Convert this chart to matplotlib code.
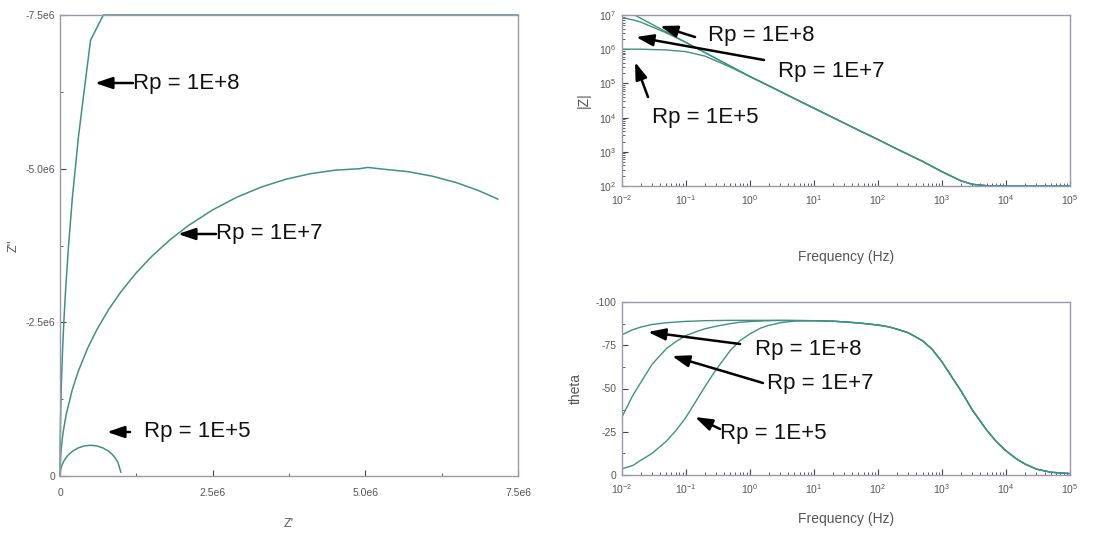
import numpy as np
import matplotlib
matplotlib.use('Agg')
import matplotlib.pyplot as plt
from matplotlib.ticker import FixedLocator, FixedFormatter, LogLocator, NullFormatter
from matplotlib.patches import FancyArrowPatch

plt.rcParams['font.family'] = ['Liberation Sans', 'DejaVu Sans']
plt.rcParams['mathtext.fontset'] = 'custom'
plt.rcParams['mathtext.rm'] = 'Liberation Sans'

# ---------------- data ----------------
labels = ['Rp = 1E+8', 'Rp = 1E+7', 'Rp = 1E+5']

# Nyquist (ohm)
nyq_re_rp8 = [0, 0.0025e6, 0.01e6, 0.0225e6, 0.04e6, 0.0625e6, 0.09e6, 0.139e6, 0.20e6,
              0.30e6, 0.40e6, 0.50e6, 0.71e6, 7.5e6]
nyq_im_rp8 = [0, -0.5e6, -1.0e6, -1.5e6, -2.0e6, -2.5e6, -3.0e6, -3.73e6, -4.5e6,
              -5.5e6, -6.3e6, -7.09e6, -7.5e6, -7.5e6]
nyq_re_rp7 = [0, 0.005e6, 0.02e6, 0.05e6, 0.1e6, 0.2e6, 0.3e6, 0.45e6, 0.6e6, 0.8e6, 1.0e6,
              1.25e6, 1.5e6, 1.8e6, 2.1e6, 2.5e6, 2.9e6, 3.3e6, 3.7e6, 4.1e6, 4.5e6, 4.9e6,
              5.04e6, 5.3e6, 5.7e6, 6.1e6, 6.5e6, 6.85e6, 7.17e6]
nyq_im_rp7 = [0, -0.224e6, -0.447e6, -0.705e6, -0.995e6, -1.40e6, -1.706e6, -2.073e6, -2.375e6,
              -2.713e6, -3.0e6, -3.307e6, -3.571e6, -3.842e6, -4.073e6, -4.33e6, -4.538e6,
              -4.702e6, -4.828e6, -4.918e6, -4.975e6, -4.999e6, -5.02e6, -4.991e6, -4.951e6,
              -4.877e6, -4.77e6, -4.645e6, -4.505e6]
nyq_re_rp5 = [0, 0.01e6, 0.03e6, 0.06e6, 0.10e6, 0.15e6, 0.20e6, 0.30e6, 0.40e6, 0.50e6,
              0.60e6, 0.70e6, 0.80e6, 0.85e6, 0.90e6, 0.95e6, 0.996e6]
nyq_im_rp5 = [0, -0.0995e6, -0.171e6, -0.237e6, -0.30e6, -0.357e6, -0.40e6, -0.458e6, -0.49e6,
              -0.50e6, -0.49e6, -0.458e6, -0.40e6, -0.357e6, -0.30e6, -0.218e6, -0.063e6]
nyq_ticks = [0, 2.5e6, 5.0e6, 7.5e6]
nyq_xticklabels = ['0', '2.5e6', '5.0e6', '7.5e6']
nyq_yticks = [0, -2.5e6, -5.0e6, -7.5e6]
nyq_yticklabels = ['0', '-2.5e6', '-5.0e6', '-7.5e6']

# |Z| vs frequency
freq_mag = [0.01, 0.016, 0.02, 0.05, 0.1, 0.2, 0.5, 1, 2, 5, 10, 20, 50, 100, 200, 500,
            1000, 2000, 3000, 5000, 1e4, 2e4, 5e4, 1e5]
mag_rp8 = [1.0e7, 1.0e7, 8.0e6, 3.2e6, 1.6e6, 8.0e5, 3.2e5, 1.6e5, 8.5e4, 3.6e4, 1.9e4, 1.0e4,
           4.3e3, 2.3e3, 1.2e3, 525, 263, 141, 112, 102, 100, 100, 100, 100]
mag_rp7 = [8.5e6, 7.0e6, 6.2e6, 3.0e6, 1.6e6, 8.0e5, 3.2e5, 1.6e5, 8.5e4, 3.6e4, 1.9e4, 1.0e4,
           4.3e3, 2.3e3, 1.2e3, 525, 263, 141, 112, 102, 100, 100, 100, 100]
mag_rp5 = [1.0e6, 1.0e6, 1.0e6, 9.5e5, 8.5e5, 6.3e5, 3.0e5, 1.6e5, 8.5e4, 3.6e4, 1.9e4, 1.0e4,
           4.3e3, 2.3e3, 1.2e3, 525, 263, 141, 112, 102, 100, 100, 100, 100]

# phase vs frequency (degrees)
freq_theta = [0.01, 0.015, 0.02, 0.03, 0.05, 0.07, 0.1, 0.15, 0.2, 0.3, 0.5, 0.7, 1, 1.5, 2, 3, 5,
              10, 20, 30, 50, 100, 150, 200, 300, 500, 700, 1000, 1500, 2000, 3000, 5000, 7000,
              1e4, 1.5e4, 2e4, 3e4, 5e4, 1e5]
theta_rp8 = [-81, -84, -85.5, -87, -88, -88.4, -88.8, -89, -89.2, -89.3, -89.4, -89.4, -89.4, -89.4,
             -89.4, -89.4, -89.3,
             -89.2, -88.9, -88.5, -87.9, -86.7, -85.6, -84.3, -82.2, -77.6, -72.8, -65.5, -55.5,
             -48.5, -37.5, -26, -19.5, -14, -9, -6.3, -3.4, -1.6, -0.8]
theta_rp7 = [-33, -46, -53.5, -64, -73, -77, -80.5, -83, -84.5, -86, -87.5, -88.3, -88.7, -89,
             -89.2, -89.3, -89.3,
             -89.2, -88.9, -88.5, -87.9, -86.7, -85.6, -84.3, -82.2, -77.6, -72.8, -65.5, -55.5,
             -48.5, -37.5, -26, -19.5, -14, -9, -6.3, -3.4, -1.6, -0.8]
theta_rp5 = [-3.5, -5.5, -8.5, -12.5, -19.5, -25.5, -33, -43.5, -51, -61, -72, -77.5, -81.5, -85,
             -86.5, -88, -89,
             -89.2, -88.9, -88.5, -87.9, -86.7, -85.6, -84.3, -82.2, -77.6, -72.8, -65.5, -55.5,
             -48.5, -37.5, -26, -19.5, -14, -9, -6.3, -3.4, -1.6, -0.8]
theta_ticks = [0, -25, -50, -75, -100]
theta_ticklabels = ['0', '-25', '-50', '-75', '-100']

# ---------------- figure ----------------
W, H = 1094, 533
fig = plt.figure(figsize=(W / 100, H / 100), dpi=100)

line_col = '#3f9282'
frame_col = '#9a98b0'
text_col = '#555555'


def axes_px(x0, y0, x1, y1):
    return fig.add_axes([x0 / W, 1 - y1 / H, (x1 - x0) / W, (y1 - y0) / H])


def style(ax, xpad=3.5):
    for s in ax.spines.values():
        s.set_color(frame_col)
        s.set_linewidth(1.0)
    ax.tick_params(which='both', direction='in', colors='#444444', labelcolor=text_col,
                   labelsize=7.5, top=False, right=False)
    ax.tick_params(which='major', length=4)
    ax.tick_params(which='minor', length=2.5)
    ax.tick_params(axis='x', pad=xpad)


# Nyquist
ax1 = axes_px(60, 15, 518, 476)
ax1.plot(nyq_re_rp8, nyq_im_rp8, color=line_col, lw=1.1, clip_on=False)
ax1.plot(nyq_re_rp7, nyq_im_rp7, color=line_col, lw=1.1)
ax1.plot(nyq_re_rp5, nyq_im_rp5, color=line_col, lw=1.1)
ax1.set_xlim(0, 7.5e6)
ax1.set_ylim(0, -7.5e6)
ax1.xaxis.set_major_locator(FixedLocator(nyq_ticks))
ax1.xaxis.set_major_formatter(FixedFormatter(nyq_xticklabels))
ax1.yaxis.set_major_locator(FixedLocator(nyq_yticks))
ax1.yaxis.set_major_formatter(FixedFormatter(nyq_yticklabels))
ax1.xaxis.set_minor_locator(FixedLocator([1.25e6, 3.75e6, 6.25e6]))
ax1.yaxis.set_minor_locator(FixedLocator([-1.25e6, -3.75e6, -6.25e6]))
style(ax1, xpad=9)
ax1.set_xlabel("Z'", fontsize=9, color=text_col, labelpad=14)
ax1.set_ylabel("Z''", fontsize=9, color=text_col, labelpad=4)

# |Z|
ax2 = axes_px(621.5, 15, 1070, 186)
ax2.loglog(freq_mag, mag_rp8, color=line_col, lw=1.0)
ax2.loglog(freq_mag, mag_rp7, color=line_col, lw=1.0)
ax2.loglog(freq_mag, mag_rp5, color=line_col, lw=1.0)
ax2.set_xlim(1e-2, 1e5)
ax2.set_ylim(1e2, 1e7)
ax2.xaxis.set_major_locator(LogLocator(base=10, numticks=20))
ax2.xaxis.set_minor_locator(LogLocator(base=10, subs=range(2, 10), numticks=20))
ax2.xaxis.set_minor_formatter(NullFormatter())
ax2.yaxis.set_major_locator(LogLocator(base=10, numticks=20))
ax2.yaxis.set_minor_locator(LogLocator(base=10, subs=range(2, 10), numticks=20))
ax2.yaxis.set_minor_formatter(NullFormatter())
style(ax2, xpad=5)
ax2.set_xlabel('Frequency (Hz)', fontsize=10, color=text_col, labelpad=31)
ax2.set_ylabel('|Z|', fontsize=10, color=text_col, labelpad=6)

# phase
ax3 = axes_px(621.5, 302, 1070, 475)
ax3.semilogx(freq_theta, theta_rp8, color=line_col, lw=1.0)
ax3.semilogx(freq_theta, theta_rp7, color=line_col, lw=1.0)
ax3.semilogx(freq_theta, theta_rp5, color=line_col, lw=1.0)
ax3.set_xlim(1e-2, 1e5)
ax3.set_ylim(0, -100)
ax3.xaxis.set_major_locator(LogLocator(base=10, numticks=20))
ax3.xaxis.set_minor_locator(LogLocator(base=10, subs=range(2, 10), numticks=20))
ax3.xaxis.set_minor_formatter(NullFormatter())
ax3.yaxis.set_major_locator(FixedLocator(theta_ticks))
ax3.yaxis.set_major_formatter(FixedFormatter(theta_ticklabels))
ax3.yaxis.set_minor_locator(FixedLocator([-12.5, -37.5, -62.5, -87.5]))
style(ax3, xpad=5)
ax3.set_xlabel('Frequency (Hz)', fontsize=10, color=text_col, labelpad=12)
ax3.set_ylabel('theta', fontsize=10, color=text_col, labelpad=9)


# ---------------- annotations ----------------
def fp(x, y):
    return (x / W, 1 - y / H)


def arrow(tail, head):
    fig.add_artist(FancyArrowPatch(fp(*tail), fp(*head), transform=fig.transFigure,
                                   arrowstyle='-|>,head_length=0.65,head_width=0.22',
                                   mutation_scale=16, lw=1.8,
                                   color='black', shrinkA=0, shrinkB=0))


def label(x, y, s):
    fig.text(*fp(x, y), s, fontsize=16, color='#111111', ha='left', va='center')


# left panel
arrow((133, 83), (95, 83));   label(133, 83, labels[0])
arrow((216, 234), (178, 234)); label(216, 234, labels[1])
arrow((130, 432), (107, 432)); label(144, 432, labels[2])
# |Z| panel
arrow((695, 37), (660, 26));  label(708, 35, labels[0])
arrow((764, 60), (636, 37));  label(778, 72, labels[1])
arrow((648, 97), (635, 62));  label(652, 118, labels[2])
# theta panel
arrow((740, 344), (648, 332)); label(755, 350, labels[0])
arrow((763, 383), (672, 356)); label(767, 384, labels[1])
arrow((720, 429), (695, 417)); label(720, 433, labels[2])

fig.savefig('out.png', dpi=100)
